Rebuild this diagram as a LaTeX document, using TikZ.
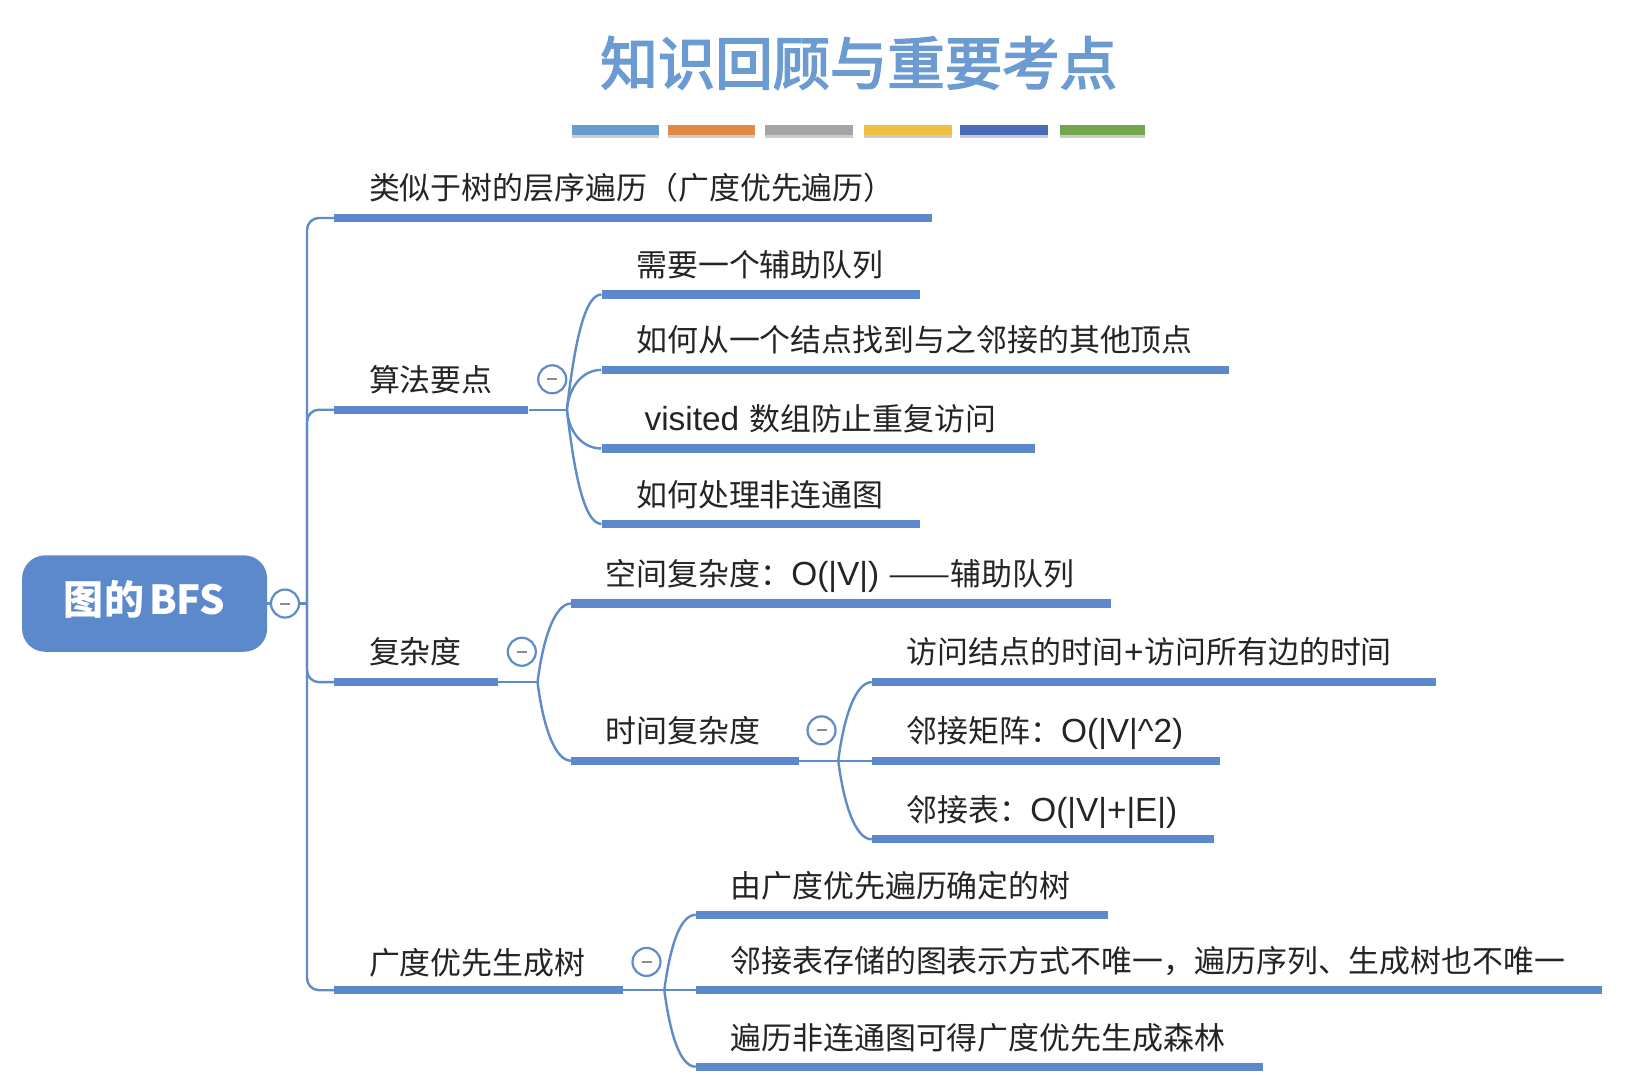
\documentclass[tikz,border=0pt]{standalone}
\usepackage{fontspec}
\setmainfont{Noto Sans CJK SC}
\newfontfamily\lat[Scale=1.08]{Liberation Sans}
\newfontfamily\heavycjk[FakeBold=3]{Noto Sans CJK SC}
\usetikzlibrary{shadows}
\definecolor{mmblue}{HTML}{5C88CC}
\definecolor{linkblue}{HTML}{5F8CC8}
\definecolor{titleblue}{HTML}{6C9BD2}
\definecolor{inktext}{HTML}{242424}
\definecolor{swA}{HTML}{6A9BCF}
\definecolor{swB}{HTML}{DF8A48}
\definecolor{swC}{HTML}{A5A5A5}
\definecolor{swD}{HTML}{F0C140}
\definecolor{swE}{HTML}{4A6CB8}
\definecolor{swF}{HTML}{74A64E}
\tikzset{
  x=1.0478pt,y=-1.0478pt,
  barstyle/.style={fill=mmblue,draw=none,inner sep=0pt,minimum height=8.2pt,anchor=west},
  conn/.style={draw=linkblue,line width=2.4pt},
  elbow/.style={conn,rounded corners=12pt},
  label/.style={anchor=west,inner sep=0pt,text=inktext,font=\fontsize{30.92}{36}\selectfont,text height=26pt,text depth=6pt},
  toggle/.style={circle,draw=linkblue,line width=2.2pt,fill=white,minimum size=28pt,inner sep=0pt,
    path picture={\draw[black!45,line width=2pt] ([xshift=-5pt]path picture bounding box.center) -- ([xshift=5pt]path picture bounding box.center);}},
  swatch/.style={draw=none,inner sep=0pt,minimum height=10pt,anchor=west,drop shadow={shadow xshift=0pt,shadow yshift=-2.5pt,opacity=.4}},
}
\newcommand{\mmbar}[4]{\node[barstyle,minimum width={(#3-#2)*1.0478pt}] (#1) at (#2,#4) {};}
\newcommand{\mmswatch}[4]{\node[swatch,fill=#4,minimum width={(#3-#2)*1.0478pt}] (#1) at (#2,124.5) {};}
\begin{document}
\begin{tikzpicture}
\useasboundingbox (0,0) rectangle (1568,1030);
\fill[white] (0,0) rectangle (1568,1030);
% title
\node[anchor=center,inner sep=0pt,text=titleblue,font=\fontsize{57.4}{64}\heavycjk] (title) at (819.5,60) {知识回顾与重要考点};
\mmswatch{s1}{546}{629}{swA}
\mmswatch{s2}{637}{720}{swB}
\mmswatch{s3}{730}{814}{swC}
\mmswatch{s4}{824}{908}{swD}
\mmswatch{s5}{916}{1000}{swE}
\mmswatch{s6}{1011}{1093}{swF}
% root
\node[fill=mmblue,rounded corners=23pt,inner sep=0pt,minimum width=245pt,minimum height=96.4pt,text=white,text height=33pt,text depth=12pt,font=\fontsize{40}{46}\selectfont\bfseries] (root) at (138,576) {图的\hspace{5pt}BFS};
% bars
\mmbar{a}{319}{889}{208}
\mmbar{b}{319}{504}{391}
\mmbar{ba}{574}{878}{281}
\mmbar{bb}{574}{1173}{353}
\mmbar{bc}{574}{988}{428}
\mmbar{bd}{574}{878}{500}
\mmbar{c}{319}{475}{651}
\mmbar{ca}{545}{1060}{576}
\mmbar{cb}{545}{762}{726}
\mmbar{cba}{832}{1370}{651}
\mmbar{cbb}{832}{1164}{726}
\mmbar{cbc}{832}{1158}{801}
\mmbar{d}{319}{594}{945}
\mmbar{da}{664}{1057}{873}
\mmbar{db}{664}{1529}{945}
\mmbar{dc}{664}{1205}{1018}
% junctions
\coordinate (j0) at (293,576);
\coordinate (jb) at (541,391);
\coordinate (jc) at (513,651);
\coordinate (jcb) at (800,726);
\coordinate (jd) at (634,945);
% connectors
\draw[conn] (root.east) -- (j0);
\draw[elbow] (j0) |- (a.west);
\draw[elbow] (j0) |- (b.west);
\draw[elbow] (j0) |- (c.west);
\draw[elbow] (j0) |- (d.west);
\draw[conn] (b.east) -- (jb);
\draw[conn] (jb) .. controls +(6,-51) and +(-18,0) .. (ba.west);
\draw[conn] (jb) .. controls +(2,-22) and +(-18,0) .. (bb.west);
\draw[conn] (jb) .. controls +(2,22) and +(-18,0) .. (bc.west);
\draw[conn] (jb) .. controls +(6,51) and +(-18,0) .. (bd.west);
\draw[conn] (c.east) -- (jc);
\draw[conn] (jc) .. controls +(5,-40) and +(-16,0) .. (ca.west);
\draw[conn] (jc) .. controls +(5,40) and +(-16,0) .. (cb.west);
\draw[conn] (cb.east) -- (cbb.west);
\draw[conn] (jcb) .. controls +(5,-40) and +(-16,0) .. (cba.west);
\draw[conn] (jcb) .. controls +(5,40) and +(-16,0) .. (cbc.west);
\draw[conn] (d.east) -- (db.west);
\draw[conn] (jd) .. controls +(5,-38) and +(-16,0) .. (da.west);
\draw[conn] (jd) .. controls +(5,38) and +(-16,0) .. (dc.west);
% toggles
\node[toggle] (t0) at (272,576) {};
\node[toggle] (t1) at (527,362) {};
\node[toggle] (t2) at (498,622) {};
\node[toggle] (t3) at (784,697) {};
\node[toggle] (t4) at (617,918) {};
% labels
\node[label] (la) at (352,181) {类似于树的层序遍历（广度优先遍历）};
\node[label] (lb) at (352,364) {算法要点};
\node[label] (lba) at (607,254) {需要一个辅助队列};
\node[label] (lbb) at (607,326) {如何从一个结点找到与之邻接的其他顶点};
\node[label] (lbc) at (615,401) {{\lat visited}\hspace{3pt} 数组防止重复访问};
\node[label] (lbd) at (607,474) {如何处理非连通图};
\node[label] (lc) at (352,624) {复杂度};
\node[label] (lca) at (578,549) {空间复杂度：{\lat O(|V|)}\hspace{2pt} \scalebox{1.2}[1]{——}辅助队列};
\node[label] (lcb) at (578,699) {时间复杂度};
\node[label] (lcba) at (865,624) {访问结点的时间{\lat\hspace{1pt}+\hspace{1pt}}访问所有边的时间};
\node[label] (lcbb) at (865,699) {邻接矩阵：{\lat O(|V|\^{}2)}};
\node[label] (lcbc) at (865,774) {邻接表：{\lat O(|V|+|E|)}};
\node[label] (ld) at (352,920) {广度优先生成树};
\node[label] (lda) at (697,847) {由广度优先遍历确定的树};
\node[label] (ldb) at (697,919) {邻接表存储的图表示方式不唯一，遍历序列、生成树也不唯一};
\node[label] (ldc) at (697,992) {遍历非连通图可得广度优先生成森林};
\end{tikzpicture}
\end{document}
